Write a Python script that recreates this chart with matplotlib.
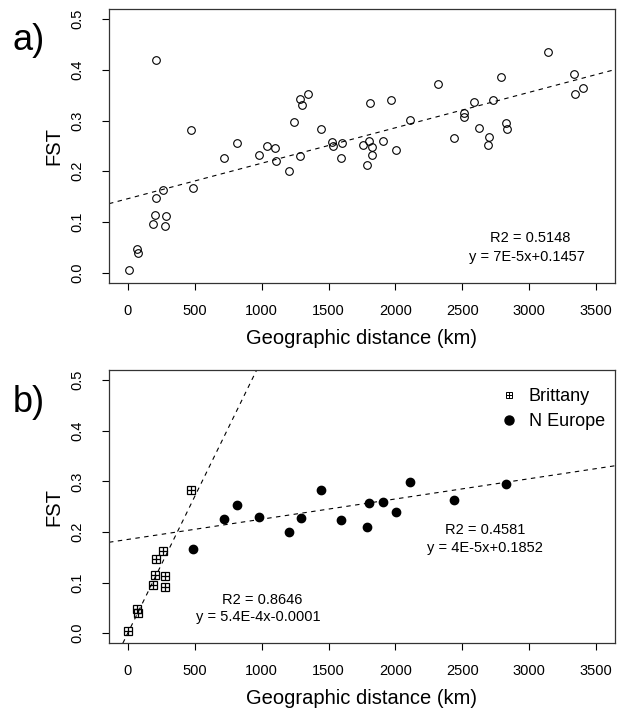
import matplotlib
matplotlib.use('Agg')
import matplotlib.pyplot as plt
from matplotlib.lines import Line2D
import numpy as np

plt.rcParams['font.family'] = ['Liberation Sans', 'DejaVu Sans']

# Panel a: all population pairs
dist_all = [10, 67, 75, 211, 204, 191, 209, 264, 284, 276, 470, 488, 719, 818,
            983, 1037, 1102, 1107, 1204, 1244, 1284, 1299, 1343, 1289, 1445,
            1528, 1532, 1604, 1590, 1754, 1801, 1821, 1826, 1791, 1813, 1910,
            1963, 2005, 2107, 2321, 2440, 2513, 2513, 2585, 2627, 2697, 2692,
            2726, 2789, 2826, 2831, 3140, 3331, 3338, 3403]
fst_all = [0.005, 0.047, 0.039, 0.419, 0.114, 0.095, 0.148, 0.162, 0.112, 0.092,
           0.282, 0.166, 0.227, 0.255, 0.231, 0.249, 0.246, 0.220, 0.201, 0.297,
           0.343, 0.331, 0.353, 0.229, 0.283, 0.257, 0.250, 0.256, 0.226, 0.252,
           0.259, 0.247, 0.232, 0.212, 0.334, 0.260, 0.340, 0.241, 0.301, 0.372,
           0.266, 0.314, 0.307, 0.336, 0.286, 0.268, 0.251, 0.341, 0.385, 0.296,
           0.283, 0.436, 0.391, 0.352, 0.364]

# Panel b: Brittany vs N Europe
dist_brittany = [5, 72, 75, 201, 191, 209, 261, 281, 278, 470]
fst_brittany = [0.004, 0.047, 0.039, 0.114, 0.095, 0.147, 0.162, 0.112, 0.091, 0.282]

dist_neurope = [488, 719, 818, 983, 1204, 1291, 1445, 1590, 1791, 1801, 1910,
                2005, 2107, 2440, 2823]
fst_neurope = [0.166, 0.226, 0.254, 0.230, 0.200, 0.228, 0.282, 0.224, 0.210,
               0.257, 0.259, 0.240, 0.299, 0.263, 0.294]

# regression lines (slope, intercept) as reported on the chart
fit_all = (7e-5, 0.1457)
fit_brittany = (5.4e-4, -0.0001)
fit_neurope = (4e-5, 0.1852)

W, H = 624, 713
fig = plt.figure(figsize=(W / 100, H / 100), dpi=100)

ax_a = fig.add_axes([109 / W, 1 - 282.7 / H, 506 / W, 273.7 / H])
ax_b = fig.add_axes([109 / W, 1 - 643.3 / H, 506 / W, 273.3 / H])

dash = (0, (4, 4))


def style_axes(ax):
    ax.set_xlim(-140, 3640)
    ax.set_ylim(-0.02, 0.52)
    ax.set_xticks(np.arange(0, 3501, 500))
    ax.set_yticks(np.arange(0, 0.51, 0.1))
    ax.set_yticklabels(['%.1f' % v for v in np.arange(0, 0.51, 0.1)],
                       rotation=90, va='center')
    ax.tick_params(direction='out', length=5, width=0.8, labelsize=10.5,
                   colors='black')
    ax.tick_params(axis='x', pad=10)
    ax.tick_params(axis='y', pad=13)
    for sp in ax.spines.values():
        sp.set_linewidth(0.9)
        sp.set_color('#333333')
    ax.set_xlabel('Geographic distance (km)', fontsize=14.5, labelpad=8)
    ax.set_ylabel('FST', fontsize=14.5, labelpad=5)


# a)
ax_a.plot(dist_all, fst_all, linestyle='none', marker='o', markersize=5.5,
          markerfacecolor='none', markeredgecolor='black', markeredgewidth=0.8)
ax_a.axline((0, fit_all[1]), slope=fit_all[0], color='black', lw=0.8,
            linestyle=dash)
style_axes(ax_a)
ax_a.text(3005, 0.068, 'R2 = 0.5148', ha='center', va='center', fontsize=10.5)
ax_a.text(2982, 0.031, 'y = 7E-5x+0.1457', ha='center', va='center', fontsize=10.5)

# b)
ax_b.plot(dist_brittany, fst_brittany, linestyle='none', marker='s',
          markersize=5.6, markerfacecolor='none', markeredgecolor='black',
          markeredgewidth=0.9)
ax_b.plot(dist_brittany, fst_brittany, linestyle='none', marker='+',
          markersize=5.6, markeredgecolor='black', markeredgewidth=0.9)
ax_b.plot(dist_neurope, fst_neurope, linestyle='none', marker='o',
          markersize=6, color='black')
ax_b.axline((0, fit_brittany[1]), slope=fit_brittany[0], color='black', lw=0.8,
            linestyle=dash)
ax_b.axline((0, fit_neurope[1]), slope=fit_neurope[0], color='black', lw=0.8,
            linestyle=dash)
style_axes(ax_b)
ax_b.text(1005, 0.066, 'R2 = 0.8646', ha='center', va='center', fontsize=10.5)
ax_b.text(974, 0.032, 'y = 5.4E-4x-0.0001', ha='center', va='center', fontsize=10.5)
ax_b.text(2672, 0.204, 'R2 = 0.4581', ha='center', va='center', fontsize=10.5)
ax_b.text(2665, 0.169, 'y = 4E-5x+0.1852', ha='center', va='center', fontsize=10.5)

# smaller symbols in the legend, as in the original
leg_sq = Line2D([], [], linestyle='none', marker='s', markersize=4.2,
                markerfacecolor='none', markeredgecolor='black', markeredgewidth=0.7)
leg_pl = Line2D([], [], linestyle='none', marker='+', markersize=4.2,
                markeredgecolor='black', markeredgewidth=0.7)
leg_dot = Line2D([], [], linestyle='none', marker='o', markersize=6.5, color='black')
ax_b.legend([(leg_sq, leg_pl), leg_dot], ['Brittany', 'N Europe'], loc='upper right',
            bbox_to_anchor=(1.0, 0.97), frameon=False, fontsize=13,
            handlelength=1.0, handletextpad=0.6, labelspacing=0.45,
            borderaxespad=0.15)

fig.text(29 / W, 1 - 41 / H, 'a)', fontsize=26, ha='center', va='center')
fig.text(29 / W, 1 - 402 / H, 'b)', fontsize=26, ha='center', va='center')

fig.savefig('out.png', dpi=100)
